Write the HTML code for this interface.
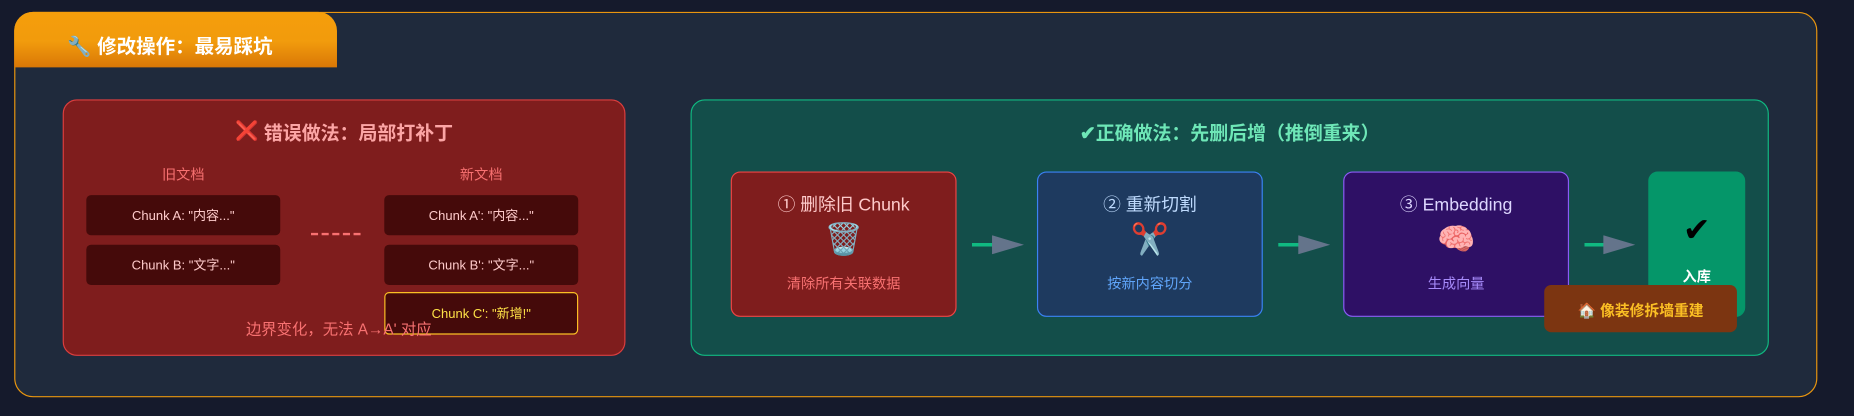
<!DOCTYPE html>
<html><head><meta charset="utf-8"><style>
*{margin:0;padding:0;box-sizing:border-box}
html,body{width:1854px;height:416px;overflow:hidden;background:#151a2c}
#w{position:absolute;left:0;top:0;width:1568px;height:352px;transform:scale(1.18240);transform-origin:0 0;font-family:"Liberation Sans","Noto Sans CJK SC",sans-serif}
.a{position:absolute}
.c{display:flex;align-items:center;justify-content:center;text-align:center}
.chunk{position:absolute;background:#450a0a;border-radius:4px;color:#fecaca;font-size:11px;width:164px;height:34px}
.step{position:absolute;top:145px;width:191px;height:123px;border-radius:8px;border:1.5px solid;flex-direction:column}
.step .t{font-size:15px;margin-top:-4px}
.step .i{font-size:26px;line-height:34px;margin:2px 0 12px}
.step .s{font-size:12px}
.arr{position:absolute;top:199px;width:44px;height:16px}
</style></head><body><div id="w">
<div class="a" style="left:12px;top:10px;width:1525px;height:326px;border:1.5px solid #e8950f;border-radius:16px;background:#1f2a3c"></div>
<div class="a" style="left:12px;top:10px;width:273px;height:47px;border-radius:16px 16px 0 0;background:linear-gradient(#f59e0b,#f29b0c 48%,#f29c0d 52%,#d97706)"></div>
<div class="a" style="left:57px;top:26px;color:#fff;font-weight:bold;font-size:16.5px">🔧 修改操作：最易踩坑</div>

<div class="a" style="left:53px;top:84px;width:476px;height:217px;background:#7f1d1d;border:1.5px solid #dc3e3e;border-radius:12px"></div>
<div class="a c" style="left:53px;top:99px;width:476px;color:#fca5a5;font-weight:bold;font-size:16px"><span style="color:#e01010">❌</span>&nbsp;错误做法：局部打补丁</div>
<div class="a c" style="left:73px;top:139px;width:164px;color:#f87171;font-size:12px">旧文档</div>
<div class="a c" style="left:325px;top:139px;width:164px;color:#f87171;font-size:12px">新文档</div>
<div class="chunk c" style="left:73px;top:165px">Chunk A: "内容..."</div>
<div class="chunk c" style="left:73px;top:207px">Chunk B: "文字..."</div>
<div class="chunk c" style="left:325px;top:165px">Chunk A': "内容..."</div>
<div class="chunk c" style="left:325px;top:207px">Chunk B': "文字..."</div>
<div class="chunk c" style="left:325px;top:247px;height:36px;border:1.5px solid #fbbf24;color:#fde047">Chunk C': "新增!"</div>
<svg class="a" style="left:263px;top:196px" width="42" height="4"><line x1="0" y1="2" x2="42" y2="2" stroke="#f87171" stroke-width="2" stroke-dasharray="6,3"/></svg>
<div class="a" style="left:208px;top:268px;color:#f87171;font-size:13px">边界变化，无法 A→A' 对应</div>

<div class="a" style="left:584px;top:84px;width:912px;height:217px;background:#134e4a;border:1.5px solid #10b981;border-radius:12px"></div>
<div class="a c" style="left:584px;top:99px;width:912px;color:#6ee7b7;font-weight:bold;font-size:16px">✔正确做法：先删后增（推倒重来）</div>
<div class="step c" style="left:618px;background:#7f1d1d;border-color:#ef4444"><div class="t" style="color:#fecaca">① 删除旧 Chunk</div><div class="i">🗑️</div><div class="s" style="color:#f87171">清除所有关联数据</div></div>
<div class="step c" style="left:877px;background:#1e3a5f;border-color:#3b82f6"><div class="t" style="color:#bfdbfe">② 重新切割</div><div class="i">✂️</div><div class="s" style="color:#60a5fa">按新内容切分</div></div>
<div class="step c" style="left:1136px;background:#2e1065;border-color:#8b5cf6"><div class="t" style="color:#ddd6fe">③ Embedding</div><div class="i">🧠</div><div class="s" style="color:#a78bfa">生成向量</div></div>
<div class="step c" style="left:1394px;width:82px;background:#059669;border-color:#059669"><div style="font-size:28px;color:#000;margin-top:6px;font-weight:bold;font-family:'DejaVu Sans',sans-serif">✔</div><div style="font-size:12px;color:#fff;margin-top:14px;font-weight:bold">入库</div></div>
<svg class="arr" style="left:822px"><line x1="0" y1="8" x2="18" y2="8" stroke="#10b981" stroke-width="3"/><polygon points="17,0 44,8 17,16" fill="#64748b"/></svg>
<svg class="arr" style="left:1081px"><line x1="0" y1="8" x2="18" y2="8" stroke="#10b981" stroke-width="3"/><polygon points="17,0 44,8 17,16" fill="#64748b"/></svg>
<svg class="arr" style="left:1340px"><line x1="0" y1="8" x2="18" y2="8" stroke="#10b981" stroke-width="3"/><polygon points="16,0 43,8 16,16" fill="#64748b"/></svg>
<div class="a c" style="left:1306px;top:241px;width:163px;height:40px;background:#7c3511;border-radius:6px;color:#fbbf24;font-weight:bold;font-size:12.5px">🏠 像装修拆墙重建</div>
</div></body></html>
